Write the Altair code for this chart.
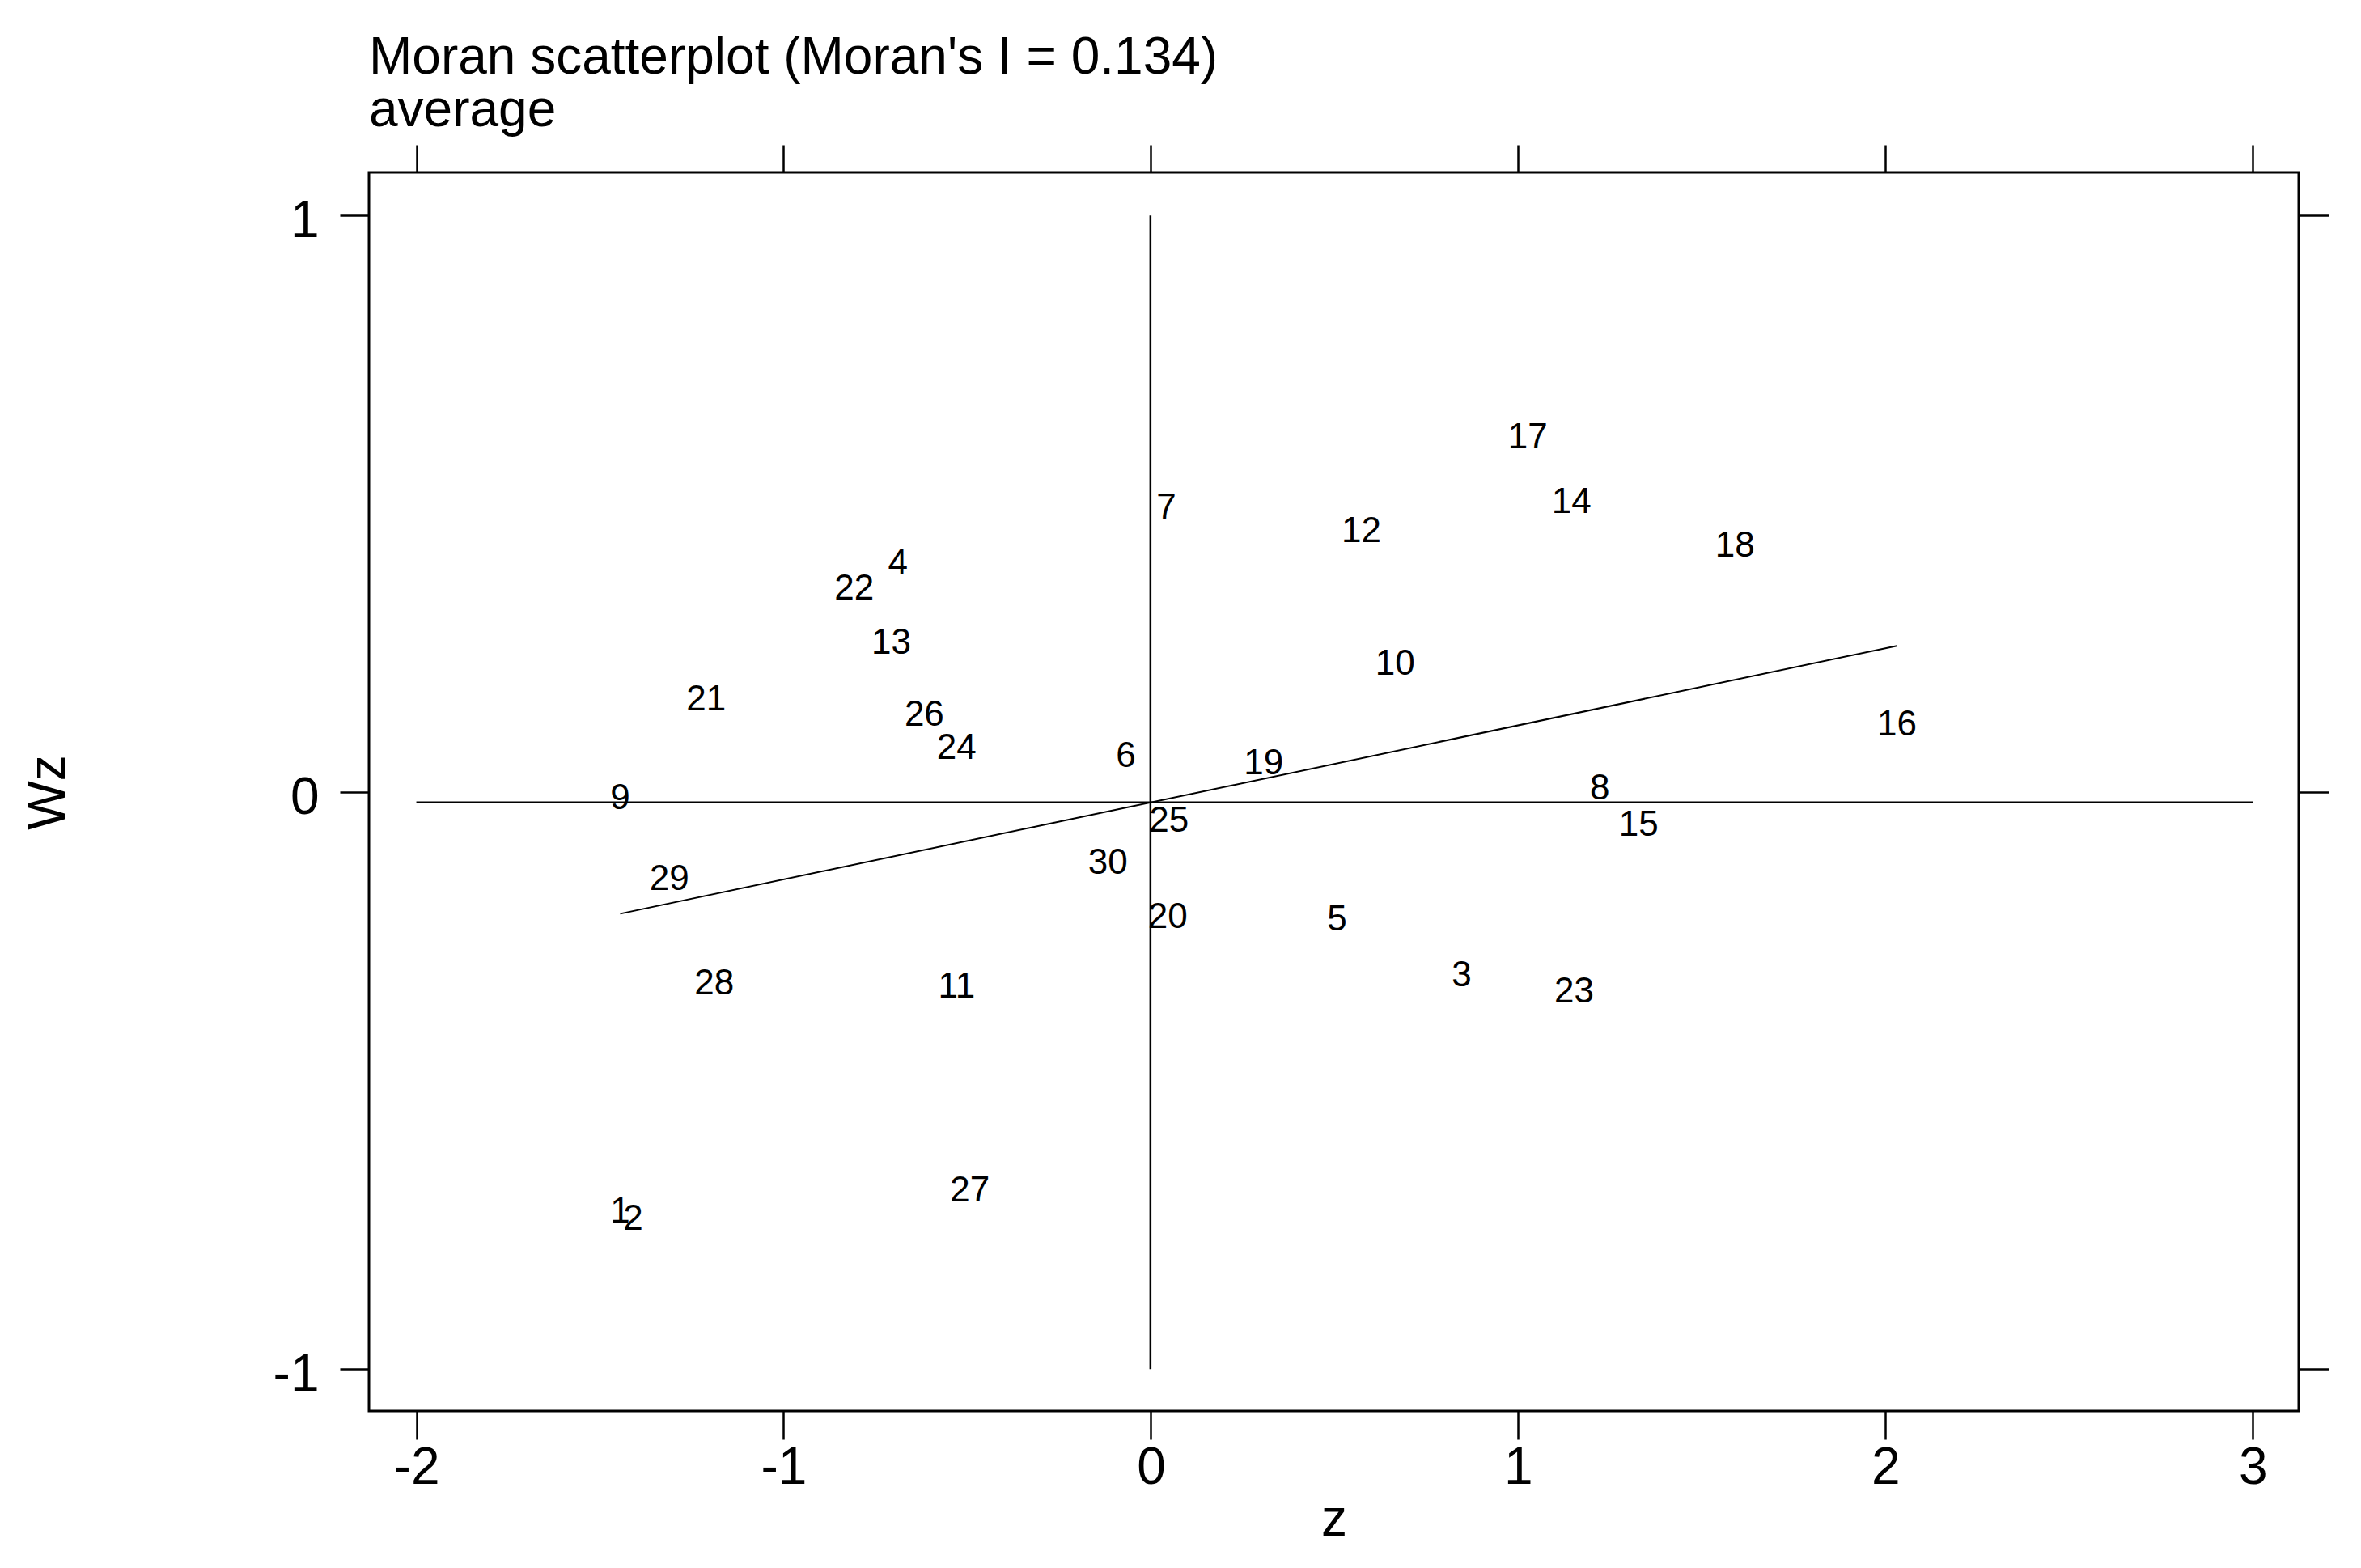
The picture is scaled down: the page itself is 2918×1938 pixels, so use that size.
import altair as alt
import pandas as pd

# ---- data ----
LABELS = [str(i) for i in range(1, 31)]
Z = [-1.445, -1.410, 0.846, -0.689, 0.507, -0.068, 0.042, 1.222, -1.445, 0.665,
     -0.529, 0.573, -0.707, 1.145, 1.328, 2.031, 1.026, 1.590, 0.307, 0.046,
     -1.211, -0.808, 1.152, -0.529, 0.049, -0.617, -0.493, -1.189, -1.311, -0.117]
WZ = [-0.745, -0.757, -0.335, 0.378, -0.239, 0.044, 0.475, -0.012, -0.029, 0.204,
      -0.355, 0.434, 0.241, 0.485, -0.074, 0.100, 0.597, 0.409, 0.032, -0.235,
      0.143, 0.335, -0.364, 0.059, -0.067, 0.116, -0.708, -0.350, -0.168, -0.141]
X_TICKS = [-2, -1, 0, 1, 2, 3]
Y_TICKS = [-1, 0, 1]
TITLE = ["Moran scatterplot (Moran's I = 0.134)", "average"]
X_TITLE = "z"
Y_TITLE = "Wz"

df = pd.DataFrame({"label": LABELS, "z": Z, "Wz": WZ})

FONT = "Liberation Sans"
HYPHEN_LABEL = "datum.value < 0 ? '-' + abs(datum.value) : '' + datum.value"
xs = alt.Scale(domain=[-2.129, 3.125], nice=False, zero=False)
ys = alt.Scale(domain=[-1.0724, 1.0747], nice=False, zero=False)

labels = alt.Chart(df).mark_text(
    font=FONT, fontSize=44, color="black", baseline="middle", align="center", dy=-12.5
).encode(
    x=alt.X("z:Q", scale=xs, axis=alt.Axis(
        orient="bottom", values=X_TICKS, title=X_TITLE, tickSize=35, labelPadding=3,
        labelExpr=HYPHEN_LABEL,
        labelFlush=False, labelOverlap=False, titleY=153, titleBaseline="alphabetic")),
    y=alt.Y("Wz:Q", scale=ys, axis=alt.Axis(
        orient="left", values=Y_TICKS, title=Y_TITLE, tickSize=36, labelPadding=26,
        labelExpr=HYPHEN_LABEL,
        labelOffset=7, labelFlush=False, labelOverlap=False, titleAngle=270,
        titleX=-377, titleY=766, titleAlign="center", titleBaseline="alphabetic")),
    text="label:N",
)

hline = alt.Chart(df).transform_aggregate(
    mWz="mean(Wz)"
).transform_calculate(
    xa=str(X_TICKS[0]), xb=str(X_TICKS[-1])
).mark_rule(color="black", strokeWidth=2.5).encode(
    x=alt.X("xa:Q", scale=xs, axis=None),
    x2="xb:Q",
    y=alt.Y("mWz:Q", scale=ys, axis=None),
)

vline = alt.Chart(df).transform_aggregate(
    mz="mean(z)"
).transform_calculate(
    ya=str(Y_TICKS[0]), yb=str(Y_TICKS[-1])
).mark_rule(color="black", strokeWidth=2.5).encode(
    x=alt.X("mz:Q", scale=xs, axis=alt.Axis(
        orient="top", values=X_TICKS, labels=False, title=None, tickSize=34)),
    y=alt.Y("ya:Q", scale=ys, axis=alt.Axis(
        orient="right", values=Y_TICKS, labels=False, title=None, tickSize=37)),
    y2="yb:Q",
)

reg = alt.Chart(df).transform_regression("z", "Wz").mark_line(
    color="black", strokeWidth=2
).encode(
    x=alt.X("z:Q", scale=xs, axis=None),
    y=alt.Y("Wz:Q", scale=ys, axis=None),
)

chart = alt.layer(labels, hline, vline, reg).resolve_axis(
    x="independent", y="independent"
).properties(
    width=2385, height=1531,
    padding={"left": 448, "top": 205, "right": 40, "bottom": 180},
    autosize=alt.AutoSizeParams(type="none"),
    title=alt.TitleParams(text=TITLE, anchor="start", frame="group", font=FONT,
                          fontSize=64, fontWeight="normal", color="black",
                          lineHeight=65, offset=9),
).configure_view(
    stroke="black", strokeWidth=3
).configure_axis(
    grid=False, domain=False, tickColor="black", tickWidth=2.5,
    labelFont=FONT, labelFontSize=64, labelColor="black",
    titleFont=FONT, titleFontSize=64, titleFontWeight="normal", titleColor="black",
)

chart.save("out.html", embed_options={"renderer": "svg", "actions": False})
